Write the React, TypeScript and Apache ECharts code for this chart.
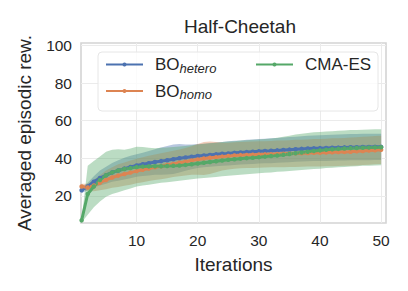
import React, { useEffect, useRef } from "react";
import * as echarts from "echarts";

const iterations: number[] = [
  1, 2, 3, 4, 5, 6, 7, 8, 9, 10, 11, 12, 13, 14, 15, 16, 17, 18, 19, 20, 21, 22, 23, 24, 25,
  26, 27, 28, 29, 30, 31, 32, 33, 34, 35, 36, 37, 38, 39, 40, 41, 42, 43, 44, 45, 46, 47, 48, 49, 50,
];
const xTicks = [10, 20, 30, 40, 50];
const yTicks = [20, 40, 60, 80, 100];

const heteroMean = [23, 25, 27.5, 29.5, 31, 32.5, 33.5, 34.5, 35.4, 36.2, 36.8, 37.4, 38, 38.5, 39, 39.5, 40, 40.4, 40.8, 41.2, 41.5, 41.8, 42.1, 42.4, 42.6, 42.9, 43.1, 43.3, 43.5, 43.7, 43.9, 44, 44.2, 44.4, 44.6, 44.8, 45, 45.2, 45.3, 45.4, 45.5, 45.6, 45.7, 45.8, 45.9, 45.9, 46, 46, 46.1, 46.1];
const heteroSpread = [1.5, 2, 3, 4, 4.5, 5, 5.5, 5.8, 6, 6, 6.2, 6.5, 6.8, 7.2, 7.6, 7.8, 7.6, 7, 6.6, 6.4, 6.3, 6.3, 6.3, 6.3, 6.4, 6.4, 6.4, 6.5, 6.5, 6.5, 6.5, 6.6, 6.6, 6.6, 6.7, 6.7, 6.7, 6.8, 6.8, 6.8, 6.9, 6.9, 6.9, 7, 7, 7, 7, 7, 7, 7];

const homoMean = [25, 24.5, 25.5, 27, 28.5, 29.8, 30.8, 31.6, 32.4, 33.2, 33.9, 34.6, 35.2, 35.8, 36.4, 37, 37.6, 38.2, 38.8, 39.4, 39.9, 40.3, 40.6, 40.9, 41.2, 41.5, 41.7, 41.8, 41.9, 42, 42.1, 42.2, 42.3, 42.4, 42.5, 42.6, 42.7, 42.8, 42.9, 43, 43.1, 43.2, 43.3, 43.4, 43.5, 43.7, 43.9, 44.1, 44.3, 44.5];
const homoSpread = [1.5, 2, 3, 4, 5, 5.5, 6, 6.2, 6.4, 6.5, 6.6, 6.7, 6.8, 6.9, 7, 7, 7.1, 7.3, 7.6, 8.2, 8.8, 8.6, 8, 7.4, 7.1, 7, 7, 7, 7, 7, 7, 7, 7.1, 7.1, 7.1, 7.2, 7.2, 7.2, 7.3, 7.3, 7.3, 7.4, 7.4, 7.4, 7.5, 7.5, 7.5, 7.5, 7.5, 7.5];

const cmaMean = [7, 21, 25, 28.5, 31, 32.5, 33.5, 34.3, 34.8, 35.3, 35.6, 35.7, 35.8, 35.8, 35.9, 36, 36.2, 36.5, 36.8, 37.2, 37.6, 38, 38.4, 38.8, 39.2, 39.5, 39.8, 40.1, 40.3, 40.6, 40.9, 41.2, 41.5, 41.9, 42.3, 42.7, 43.1, 43.5, 43.9, 44.2, 44.5, 44.8, 45, 45.2, 45.4, 45.5, 45.6, 45.7, 45.8, 45.9];
const cmaUpper = [7.5, 36, 38.5, 41, 43.5, 44.5, 44.8, 44.6, 45.2, 46.2, 46, 45.6, 45.4, 45.6, 45.8, 46, 46.3, 46.6, 47, 47.4, 47.7, 48, 48.3, 48.6, 48.9, 49.1, 49.4, 49.6, 49.8, 50, 50.2, 50.5, 50.9, 51.4, 52, 52.6, 53.1, 53.5, 53.8, 54, 54.2, 54.4, 54.6, 54.8, 55, 55.1, 55.2, 55.3, 55.4, 55.4];
const cmaLower = [5.8, 10, 14, 17, 19.5, 21, 22, 23, 24, 25, 25.5, 26, 26.5, 27, 27.3, 27.6, 28, 28.4, 28.8, 29.2, 29.5, 29.8, 30.1, 30.4, 30.7, 31, 31.3, 31.5, 31.8, 32, 32.3, 32.5, 32.8, 33, 33.3, 33.5, 33.8, 34, 34.3, 34.5, 34.8, 35, 35.2, 35.4, 35.6, 35.8, 36, 36.1, 36.2, 36.3];

const BLUE = "#4C72B0";
const ORANGE = "#DD8452";
const GREEN = "#55A868";
const TEXT = "#262626";
const FONT = "'Liberation Sans', Arial, sans-serif";

function bandSeries(key: string, lower: number[], upper: number[], color: string) {
  return {
    type: "custom",
    name: key + "_band",
    data: [[0]],
    silent: true,
    clip: true,
    z: 1,
    renderItem: (_params: any, api: any) => {
      const top = iterations.map((x, i) => api.coord([x, upper[i]]));
      const bottom = iterations.map((x, i) => api.coord([x, lower[i]])).reverse();
      return {
        type: "polygon",
        shape: { points: top.concat(bottom) },
        style: { fill: color, opacity: 0.4 },
      };
    },
  };
}

function lineSeries(name: string, mean: number[], color: string) {
  return {
    type: "line",
    name,
    data: iterations.map((x, i) => [x, mean[i]]),
    color,
    symbol: "circle",
    symbolSize: 4.5,
    lineStyle: { width: 3, color },
    itemStyle: { color },
    z: 3,
  };
}

const rich = {
  a: { fontSize: 17, fontFamily: FONT, color: TEXT },
  b: { fontSize: 13, fontStyle: "italic", fontFamily: FONT, color: TEXT, padding: [7, 0, 0, 0] },
};

function legendFormatter(name: string) {
  if (name === "BO_hetero") return "{a|BO}{b|hetero}";
  if (name === "BO_homo") return "{a|BO}{b|homo}";
  return "{a|" + name + "}";
}

export default function App() {
  const ref = useRef<HTMLDivElement>(null);
  useEffect(() => {
    if (!ref.current) return;
    const chart = echarts.init(ref.current, undefined, { renderer: "svg" });
    const heteroLower = heteroMean.map((m, i) => m - heteroSpread[i]);
    const heteroUpper = heteroMean.map((m, i) => m + heteroSpread[i]);
    const homoLower = homoMean.map((m, i) => m - homoSpread[i]);
    const homoUpper = homoMean.map((m, i) => m + homoSpread[i]);
    chart.setOption({
      animation: false,
      backgroundColor: "#ffffff",
      title: {
        text: "Half-Cheetah",
        left: 235,
        top: 12,
        textAlign: "center",
        textStyle: { fontSize: 19, fontWeight: "normal", fontFamily: FONT, color: TEXT },
      },
      grid: {
        left: 81,
        top: 43,
        width: 305,
        height: 180,
        show: true,
        borderColor: "#d4d4d4",
        borderWidth: 1.6,
        backgroundColor: "transparent",
      },
      graphic: [
        {
          type: "rect",
          shape: { x: 98, y: 52, width: 280, height: 59, r: 4 },
          style: { fill: "rgba(255,255,255,0.8)", stroke: "#e6e6e6", lineWidth: 1 },
          z: 3,
          silent: true,
        },
      ],
      legend: [
        {
          data: ["BO_hetero", "BO_homo"],
          orient: "vertical",
          left: 105,
          top: 56,
          itemWidth: 37,
          itemHeight: 5,
          itemGap: 8,
          padding: 0,
          formatter: legendFormatter,
          textStyle: { rich, padding: [0, 0, 0, 7] },
          z: 5,
        },
        {
          data: ["CMA-ES"],
          orient: "vertical",
          left: 255,
          top: 56,
          itemWidth: 37,
          itemHeight: 5,
          padding: 0,
          formatter: legendFormatter,
          textStyle: { rich, padding: [0, 0, 0, 7] },
          z: 5,
        },
      ],
      xAxis: {
        type: "value",
        min: 0.9,
        max: 50.8,
        name: "Iterations",
        nameLocation: "middle",
        nameGap: 32,
        nameTextStyle: { fontSize: 19, fontFamily: FONT, color: TEXT },
        axisLine: { show: false },
        axisTick: { show: false, customValues: xTicks },
        axisLabel: { customValues: xTicks, fontSize: 15.5, fontFamily: FONT, color: TEXT, margin: 9 },
        splitLine: { show: true, lineStyle: { color: "#ebebeb", width: 1 } },
      },
      yAxis: {
        type: "value",
        min: 5.6,
        max: 101.3,
        name: "Averaged episodic rew.",
        nameLocation: "middle",
        nameGap: 47,
        nameTextStyle: { fontSize: 19, fontFamily: FONT, color: TEXT },
        axisLine: { show: false },
        axisTick: { show: false, customValues: yTicks },
        axisLabel: { customValues: yTicks, fontSize: 15.5, fontFamily: FONT, color: TEXT, margin: 9 },
        splitLine: { show: true, lineStyle: { color: "#ebebeb", width: 1 } },
      },
      series: [
        bandSeries("hetero", heteroLower, heteroUpper, BLUE),
        bandSeries("homo", homoLower, homoUpper, ORANGE),
        bandSeries("cma", cmaLower, cmaUpper, GREEN),
        lineSeries("BO_hetero", heteroMean, BLUE),
        lineSeries("BO_homo", homoMean, ORANGE),
        lineSeries("CMA-ES", cmaMean, GREEN),
      ],
    });
    return () => chart.dispose();
  }, []);
  return (
    <div
      ref={ref}
      style={{ position: "fixed", left: 0, top: 0, width: 408, height: 291 }}
    />
  );
}
